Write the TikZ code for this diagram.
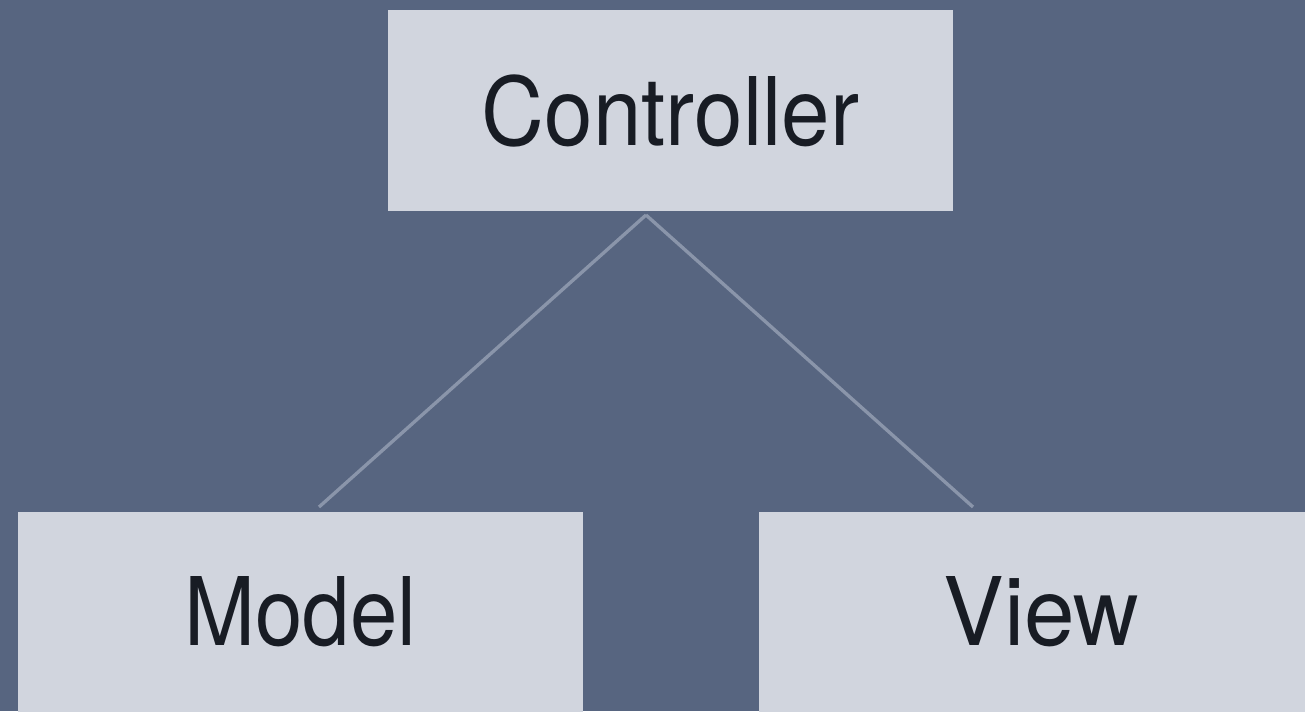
\documentclass[tikz,border=0pt]{standalone}
\usepackage{fontspec}
\setmainfont{TeX Gyre Heros}[FakeStretch=0.9]
\newfontfamily\widefont{TeX Gyre Heros}[FakeStretch=0.96]
\newfontfamily\midfont{TeX Gyre Heros}[FakeStretch=0.92]
\definecolor{bgc}{HTML}{576580}
\definecolor{boxc}{HTML}{D1D5DE}
\definecolor{txtc}{HTML}{181C24}
\definecolor{linec}{HTML}{8A95AA}
\tikzset{
  blockbox/.style={fill=boxc, text=txtc, inner sep=0pt, minimum width=423.75pt, minimum height=150.75pt, font=\fontsize{71}{80}\selectfont},
  link/.style={draw=linec, line width=2.5pt}
}
\begin{document}
\begin{tikzpicture}[x=0.75pt,y=-0.75pt]
\clip (0,0) rectangle (1305,711);
\fill[bgc] (0,0) rectangle (1305,711);
\node[blockbox] (ctrl) at (670.5,110.5) {\midfont Controller};
\node[blockbox, minimum height=150pt] (model) at (300.5,612) {Model};
\node[blockbox, minimum height=150pt] (view) at (1041.5,612) {\widefont View};
\coordinate (apex) at (646,215);
\coordinate (mend) at (319,507);
\coordinate (vend) at (973,507);
\draw[link] (apex) -- (mend);
\draw[link] (apex) -- (vend);
\end{tikzpicture}
\end{document}
